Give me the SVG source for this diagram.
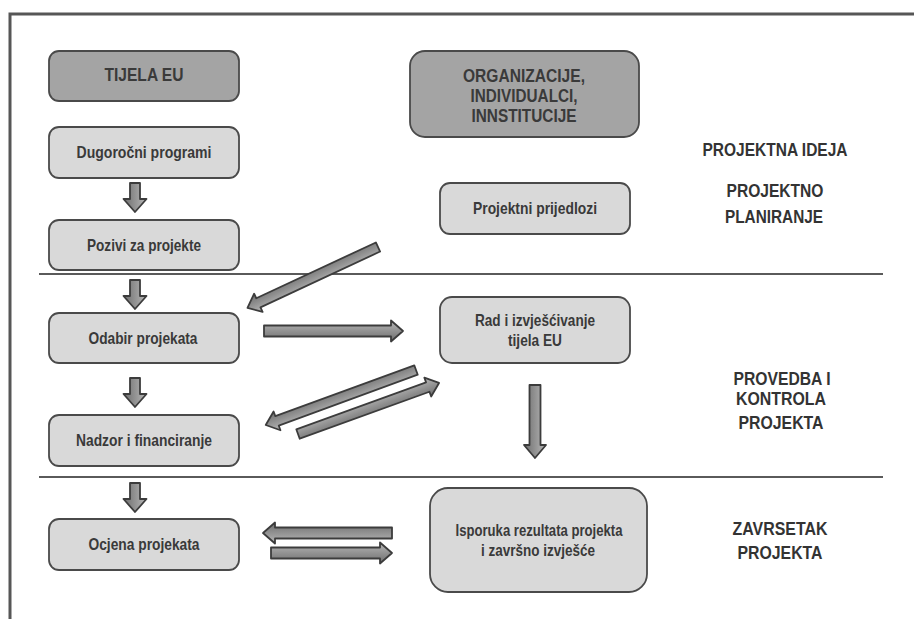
<svg xmlns="http://www.w3.org/2000/svg" width="914" height="619" viewBox="0 0 914 619">
<style>
.frame{fill:none;stroke:#565656;stroke-width:3}
.sep{stroke:#5a5a5a;stroke-width:2.2}
.dark{fill:#a4a4a4;stroke:#4a4a4a;stroke-width:1.8}
.light{fill:#d9d9d9;stroke:#4a4a4a;stroke-width:1.8}
.t{font-family:"Liberation Sans",Arial,sans-serif;font-weight:bold;fill:#3a3a3a;text-anchor:middle}
.lbl{font-size:16.5px}
.big{font-size:19px}
.hd{font-size:18px;fill:#333}
.arr{fill:url(#ag);stroke:#3c3c3c;stroke-width:1.8;stroke-linejoin:round}
</style>
<defs>
<linearGradient id="ag" x1="0" y1="0" x2="0" y2="1">
<stop offset="0" stop-color="#b8b8b8"/>
<stop offset="0.5" stop-color="#929292"/>
<stop offset="1" stop-color="#6e6e6e"/>
</linearGradient>
</defs>
<rect width="914" height="619" fill="#ffffff"/>
<path class="frame" d="M10,619 L10,14 L914,14"/>
<line class="sep" x1="39" y1="274" x2="883" y2="274"/>
<line class="sep" x1="39" y1="477" x2="883" y2="477"/>

<g id="tijela-eu">
<rect class="dark" x="49" y="51" width="190" height="50" rx="10"/>
<text class="t big" x="144" y="81" font-size="20" textLength="79" lengthAdjust="spacingAndGlyphs">TIJELA EU</text>
</g>
<g id="dugorocni">
<rect class="light" x="49" y="127" width="190" height="51" rx="10"/>
<text class="t lbl" x="144" y="158" textLength="135" lengthAdjust="spacingAndGlyphs">Dugoročni programi</text>
</g>
<g id="pozivi">
<rect class="light" x="49" y="220" width="190" height="50" rx="10"/>
<text class="t lbl" x="144" y="251" textLength="114" lengthAdjust="spacingAndGlyphs">Pozivi za projekte</text>
</g>
<g id="odabir">
<rect class="light" x="49" y="313" width="190" height="50" rx="10"/>
<text class="t lbl" x="143" y="344" textLength="109" lengthAdjust="spacingAndGlyphs">Odabir projekata</text>
</g>
<g id="nadzor">
<rect class="light" x="49" y="415" width="190" height="51" rx="10"/>
<text class="t lbl" x="144" y="446" textLength="136" lengthAdjust="spacingAndGlyphs">Nadzor i financiranje</text>
</g>
<g id="ocjena">
<rect class="light" x="49" y="519" width="190" height="51" rx="10"/>
<text class="t lbl" x="144" y="550" textLength="111" lengthAdjust="spacingAndGlyphs">Ocjena projekata</text>
</g>
<g id="organizacije">
<rect class="dark" x="410" y="51" width="229" height="86" rx="15"/>
<text class="t big" x="524" y="82" font-size="17.5" textLength="122" lengthAdjust="spacingAndGlyphs">ORGANIZACIJE,</text>
<text class="t big" x="524" y="102" font-size="17.5" textLength="107" lengthAdjust="spacingAndGlyphs">INDIVIDUALCI,</text>
<text class="t big" x="524" y="122" font-size="17.5" textLength="105" lengthAdjust="spacingAndGlyphs">INNSTITUCIJE</text>
</g>
<g id="prijedlozi">
<rect class="light" x="440" y="183" width="190" height="51" rx="10"/>
<text class="t lbl" x="535" y="214" font-size="15.5" textLength="124" lengthAdjust="spacingAndGlyphs">Projektni prijedlozi</text>
</g>
<g id="rad">
<rect class="light" x="440" y="297" width="190" height="66" rx="12"/>
<text class="t lbl" x="535" y="326" font-size="15.5" textLength="120" lengthAdjust="spacingAndGlyphs">Rad i izvješćivanje</text>
<text class="t lbl" x="535" y="346" font-size="15.5" textLength="54" lengthAdjust="spacingAndGlyphs">tijela EU</text>
</g>
<g id="isporuka">
<rect class="light" x="430" y="488" width="217" height="104" rx="18"/>
<text class="t lbl" x="539" y="536" font-size="15.5" textLength="167" lengthAdjust="spacingAndGlyphs">Isporuka rezultata projekta</text>
<text class="t lbl" x="538" y="556" font-size="15.5" textLength="114" lengthAdjust="spacingAndGlyphs">i završno izvješće</text>
</g>

<g id="faze">
<text class="t hd" x="775" y="156" textLength="145" lengthAdjust="spacingAndGlyphs">PROJEKTNA IDEJA</text>
<text class="t hd" x="775" y="197" textLength="97" lengthAdjust="spacingAndGlyphs">PROJEKTNO</text>
<text class="t hd" x="774" y="223" textLength="98" lengthAdjust="spacingAndGlyphs">PLANIRANJE</text>
<text class="t hd" x="782" y="385" textLength="97" lengthAdjust="spacingAndGlyphs">PROVEDBA I</text>
<text class="t hd" x="781" y="405" textLength="90" lengthAdjust="spacingAndGlyphs">KONTROLA</text>
<text class="t hd" x="781" y="429" textLength="85" lengthAdjust="spacingAndGlyphs">PROJEKTA</text>
<text class="t hd" x="780" y="535" textLength="95" lengthAdjust="spacingAndGlyphs">ZAVRSETAK</text>
<text class="t hd" x="780" y="559" textLength="85" lengthAdjust="spacingAndGlyphs">PROJEKTA</text>
</g>

<g id="connectors">
<path class="arr" transform="translate(135,183) rotate(90)" d="M0,-5 L16,-5 L16,-11.5 L29,0 L16,11.5 L16,5 L0,5 Z"/>
<path class="arr" transform="translate(135,280) rotate(90)" d="M0,-5 L16,-5 L16,-11.5 L29,0 L16,11.5 L16,5 L0,5 Z"/>
<path class="arr" transform="translate(135,378) rotate(90)" d="M0,-5 L16,-5 L16,-11.5 L29,0 L16,11.5 L16,5 L0,5 Z"/>
<path class="arr" transform="translate(135,483) rotate(90)" d="M0,-5 L16,-5 L16,-11.5 L29,0 L16,11.5 L16,5 L0,5 Z"/>
<path class="arr" transform="translate(378,247) rotate(155)" d="M0,-5 L132,-5 L132,-10 L144,0 L132,10 L132,5 L0,5 Z"/>
<path class="arr" transform="translate(264,331) rotate(0)" d="M0,-5.5 L127,-5.5 L127,-10.5 L139,0 L127,10.5 L127,5.5 L0,5.5 Z"/>
<path class="arr" transform="translate(416,370) rotate(159.9)" d="M0,-5 L148,-5 L148,-10 L160,0 L148,10 L148,5 L0,5 Z"/>
<path class="arr" transform="translate(298,434) rotate(-19.9)" d="M0,-5 L138,-5 L138,-10 L150,0 L138,10 L138,5 L0,5 Z"/>
<path class="arr" transform="translate(535,385) rotate(90)" d="M0,-5.5 L60,-5.5 L60,-11 L73,0 L60,11 L60,5.5 L0,5.5 Z"/>
<path class="arr" transform="translate(392,533) rotate(180)" d="M0,-5.5 L117,-5.5 L117,-10.5 L129,0 L117,10.5 L117,5.5 L0,5.5 Z"/>
<path class="arr" transform="translate(271,553) rotate(0)" d="M0,-5.5 L109,-5.5 L109,-10.5 L121,0 L109,10.5 L109,5.5 L0,5.5 Z"/>
</g>
</svg>
